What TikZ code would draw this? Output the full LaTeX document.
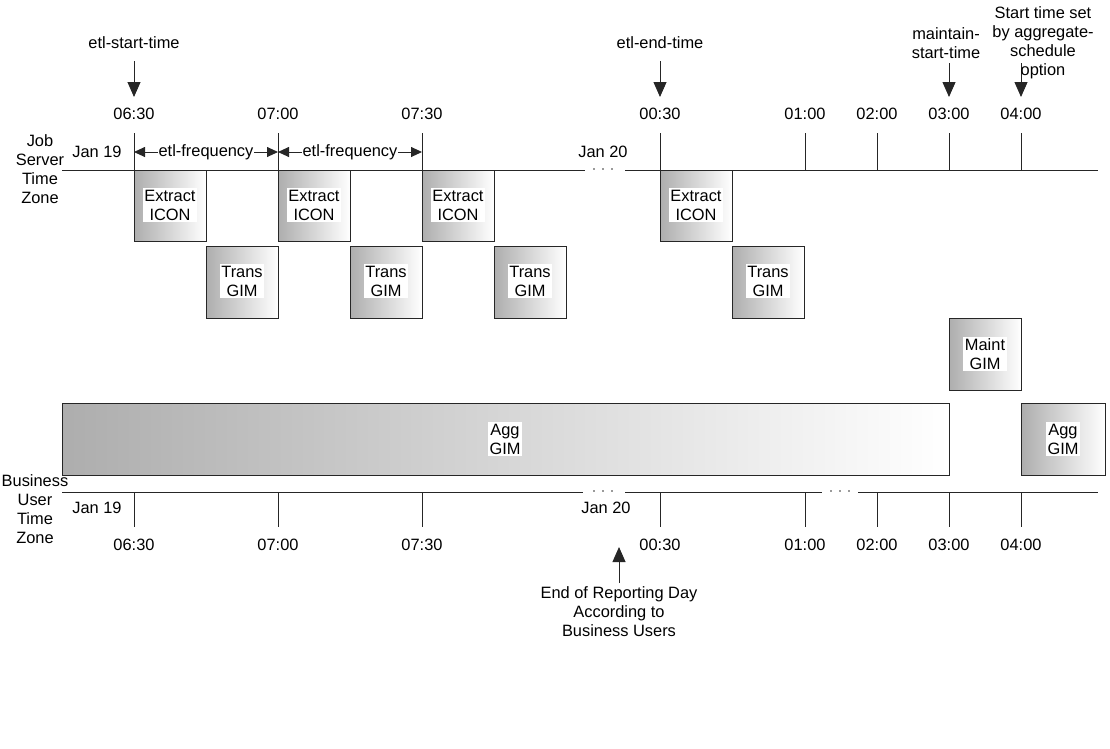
\documentclass[tikz,border=0pt]{standalone}
\usepackage{fontspec}
\setmainfont{Liberation Sans}
\usetikzlibrary{arrows.meta}
\begin{document}
\begin{tikzpicture}[x=1pt,y=-1pt,
  every node/.style={font=\fontsize{16.4}{19}\selectfont, inner sep=0pt},
  ln/.style={draw=black!85, line width=0.9pt},
  box/.style={draw=black!85, line width=0.9pt, left color=black!32, right color=white},
  boxlabel/.style={fill=white, inner sep=1.5pt, align=center},
  lbl/.style={align=center},
  bigarrow/.style={ln, -{Triangle[length=15pt,width=13pt]}},
  freq/.style={ln, {Triangle[length=11pt,width=10pt]}-{Triangle[length=11pt,width=10pt]}},
  dot/.style={fill=black!80, draw=none, circle, minimum size=1.6pt, inner sep=0pt}
]
\useasboundingbox (0,0) rectangle (1110,748);

% ---------- boxes ----------
\draw[box] (134,170) rectangle (206,241); \node[boxlabel] (e1) at (170,205) {Extract\\ICON};
\draw[box] (278,170) rectangle (350,241); \node[boxlabel] (e2) at (314,205) {Extract\\ICON};
\draw[box] (422,170) rectangle (494,241); \node[boxlabel] (e3) at (458,205) {Extract\\ICON};
\draw[box] (660,170) rectangle (732,241); \node[boxlabel] (e4) at (696,205) {Extract\\ICON};
\draw[box] (206,246) rectangle (278,318); \node[boxlabel] (t1) at (242,281) {Trans\\GIM};
\draw[box] (350,246) rectangle (422,318); \node[boxlabel] (t2) at (386,281) {Trans\\GIM};
\draw[box] (494,246) rectangle (566,318); \node[boxlabel] (t3) at (530,281) {Trans\\GIM};
\draw[box] (732,246) rectangle (804,318); \node[boxlabel] (t4) at (768,281) {Trans\\GIM};
\draw[box] (949,318) rectangle (1021,390); \node[boxlabel] (m1) at (985,354) {Maint\\GIM};
\draw[box] (62,403) rectangle (949,475); \node[boxlabel] (a1) at (505,439) {Agg\\GIM};
\draw[box] (1021,403) rectangle (1105,475); \node[boxlabel] (a2) at (1063,439) {Agg\\GIM};

% ---------- top time line ----------
\coordinate (tl0) at (62,170);
\coordinate (tl1) at (585,170);
\coordinate (tl2) at (625,170);
\coordinate (tl3) at (1098,170);
\draw[ln] (tl0) -- (tl1) (tl2) -- (tl3);
\node[dot] (td1) at (594,169) {};
\node[dot] (td2) at (603,169) {};
\node[dot] (td3) at (612,169) {};

\foreach \x/\t [count=\i] in {134/06:30,278/07:00,422/07:30,660/00:30,805/01:00,877/02:00,949/03:00,1021/04:00}{
  \coordinate (ta\i) at (\x,133);
  \coordinate (tb\i) at (\x,170);
  \draw[ln] (ta\i) -- (tb\i);
  \node (tt\i) at (\x,114) {\t};
}

\node[lbl] (jobtz) at (40,169) {Job\\Server\\Time\\Zone};
\node (jan19t) at (97,152) {Jan 19};
\node (jan20t) at (603,152) {Jan 20};

% etl-frequency
\coordinate (f0) at (134,152);
\coordinate (f1) at (278,152);
\coordinate (f2) at (422,152);
\draw[freq] (f0) -- (f1);
\draw[freq] (f1) -- (f2);
\node[fill=white, inner sep=1pt] (fr1) at (206,152) {etl-frequency};
\node[fill=white, inner sep=1pt] (fr2) at (350,152) {etl-frequency};

% top annotations
\node (est) at (134,43) {etl-start-time};
\coordinate (est0) at (134,61);
\coordinate (est1) at (134,97);
\draw[bigarrow] (est0) -- (est1);

\node (eet) at (660,43) {etl-end-time};
\coordinate (eet0) at (660,61);
\coordinate (eet1) at (660,97);
\draw[bigarrow] (eet0) -- (eet1);

\node[lbl] (mst) at (946,43) {maintain-\\start-time};
\coordinate (mst0) at (949,63);
\coordinate (mst1) at (949,97);
\draw[bigarrow] (mst0) -- (mst1);

\coordinate (ags0) at (1021,63);
\coordinate (ags1) at (1021,97);
\draw[bigarrow] (ags0) -- (ags1);
\node[lbl] (ags) at (1043,43) {Start time set\\by aggregate-\\schedule\\option};

% ---------- bottom time line ----------
\coordinate (bl0) at (62,492);
\coordinate (bl1) at (583,492);
\coordinate (bl2) at (625,492);
\coordinate (bl3) at (822,492);
\coordinate (bl4) at (858,492);
\coordinate (bl5) at (1098,492);
\draw[ln] (bl0) -- (bl1) (bl2) -- (bl3) (bl4) -- (bl5);
\node[dot] (bd1) at (594,491) {};
\node[dot] (bd2) at (603,491) {};
\node[dot] (bd3) at (612,491) {};
\node[dot] (bd4) at (831,491) {};
\node[dot] (bd5) at (840,491) {};
\node[dot] (bd6) at (849,491) {};

\foreach \x/\t [count=\i] in {134/06:30,278/07:00,422/07:30,660/00:30,805/01:00,877/02:00,949/03:00,1021/04:00}{
  \coordinate (ba\i) at (\x,492);
  \coordinate (bb\i) at (\x,527);
  \draw[ln] (ba\i) -- (bb\i);
  \node (bt\i) at (\x,545) {\t};
}

\node[lbl] (bustz) at (35,509) {Business\\User\\Time\\Zone};
\node (jan19b) at (97,508) {Jan 19};
\node (jan20b) at (606,508) {Jan 20};

\node[lbl] (eord) at (619,612) {End of Reporting Day\\According to\\Business Users};
\coordinate (eord0) at (619,583);
\coordinate (eord1) at (619,547);
\draw[bigarrow] (eord0) -- (eord1);
\end{tikzpicture}
\end{document}
